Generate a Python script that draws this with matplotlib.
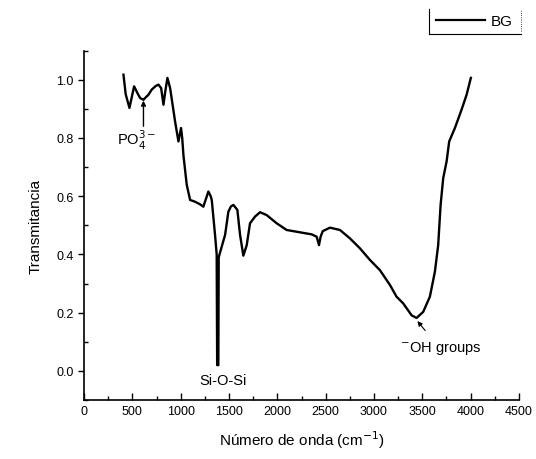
import matplotlib
matplotlib.use('Agg')
import matplotlib.pyplot as plt
from matplotlib.lines import Line2D
from matplotlib.ticker import MultipleLocator

plt.rcParams['font.family'] = ['Liberation Sans', 'DejaVu Sans']

# FTIR spectrum
wavenumber = [407, 430, 469, 517, 550, 579, 614, 640, 665, 700, 740, 769, 797,
              821, 840, 862, 890, 941, 976, 1003, 1015, 1028, 1062, 1097, 1148,
              1200, 1234, 1260, 1286, 1310, 1321, 1355, 1372, 1377, 1389, 1393,
              1414, 1459, 1493, 1520, 1545, 1586, 1614, 1648, 1683, 1717, 1769,
              1821, 1890, 1993, 2096, 2234, 2355, 2407, 2431, 2448, 2470, 2545,
              2648, 2752, 2855, 2959, 3062, 3166, 3234, 3303, 3390, 3441, 3510,
              3579, 3631, 3665, 3690, 3717, 3752, 3779, 3838, 3907, 3959, 4003]
transmitance = [1.017, 0.950, 0.903, 0.977, 0.955, 0.937, 0.931, 0.940, 0.948,
                0.966, 0.978, 0.983, 0.971, 0.914, 0.960, 1.006, 0.971, 0.857,
                0.788, 0.834, 0.800, 0.740, 0.639, 0.587, 0.581, 0.572, 0.564,
                0.590, 0.616, 0.600, 0.587, 0.467, 0.400, 0.020, 0.020, 0.390,
                0.415, 0.467, 0.547, 0.565, 0.570, 0.553, 0.467, 0.396, 0.432,
                0.507, 0.530, 0.545, 0.535, 0.507, 0.484, 0.476, 0.469, 0.461,
                0.432, 0.461, 0.480, 0.492, 0.484, 0.455, 0.421, 0.381, 0.346,
                0.295, 0.255, 0.232, 0.191, 0.182, 0.203, 0.255, 0.341, 0.432,
                0.570, 0.662, 0.719, 0.788, 0.834, 0.897, 0.948, 1.006]

fig = plt.figure(figsize=(5.36, 4.6), dpi=100)
ax = fig.add_axes([0.157, 0.128, 0.811, 0.760])

ax.plot(wavenumber, transmitance, color='black', linewidth=1.7, label='BG')

ax.set_xlim(0, 4500)
ax.set_ylim(-0.1, 1.1)
ax.xaxis.set_major_locator(MultipleLocator(500))
ax.xaxis.set_minor_locator(MultipleLocator(250))
ax.yaxis.set_minor_locator(MultipleLocator(0.1))
ax.set_yticks([0.0, 0.2, 0.4, 0.6, 0.8, 1.0])
ax.tick_params(axis='x', which='major', direction='in', length=5, width=1, labelsize=9)
ax.tick_params(axis='x', which='minor', direction='in', length=3, width=1)
ax.tick_params(axis='y', which='major', direction='out', length=4, width=1, labelsize=9)
ax.tick_params(axis='y', which='minor', direction='in', length=3, width=1)
ax.spines[['top', 'right']].set_visible(False)
ax.spines[['left', 'bottom']].set_linewidth(1.2)

ax.set_xlabel('Número de onda (cm$^{-1}$)', fontsize=11, labelpad=8)
ax.set_ylabel('Transmitancia', fontsize=11, labelpad=10)

# band annotations
ax.text(540, 0.795, 'PO$_4^{3-}$', ha='center', va='center', fontsize=10.5)
ax.annotate('', xy=(614, 0.928), xytext=(614, 0.84),
            arrowprops=dict(arrowstyle='-|>', color='black', lw=1.0,
                            mutation_scale=7, shrinkA=0, shrinkB=0))
ax.text(1440, -0.03, 'Si-O-Si', ha='center', va='center', fontsize=10.5)
ax.annotate('$^{-}$OH groups', xy=(3441, 0.175), xytext=(3693, 0.077),
            ha='center', va='center', fontsize=10.5,
            arrowprops=dict(arrowstyle='-|>', color='black', lw=0.8,
                            mutation_scale=7, shrinkA=6, shrinkB=1,
                            relpos=(0.4, 1.0)))

# legend with the open frame of the original
handles = [Line2D([0], [0], color='black', linewidth=1.6, label='BG')]
fig.legend(handles=handles, loc='center', bbox_to_anchor=(0.885, 0.952),
           frameon=False, fontsize=11, handlelength=3.2, handletextpad=0.4)
fig.add_artist(Line2D([0.800, 0.800], [0.924, 0.978], color='black', lw=0.8,
                      transform=fig.transFigure))
fig.add_artist(Line2D([0.800, 0.972], [0.924, 0.924], color='black', lw=0.8,
                      transform=fig.transFigure))
fig.add_artist(Line2D([0.972, 0.972], [0.930, 0.978], color='black', lw=0.6,
                      linestyle=':', transform=fig.transFigure))

fig.savefig('out.png', dpi=100, facecolor='white')
